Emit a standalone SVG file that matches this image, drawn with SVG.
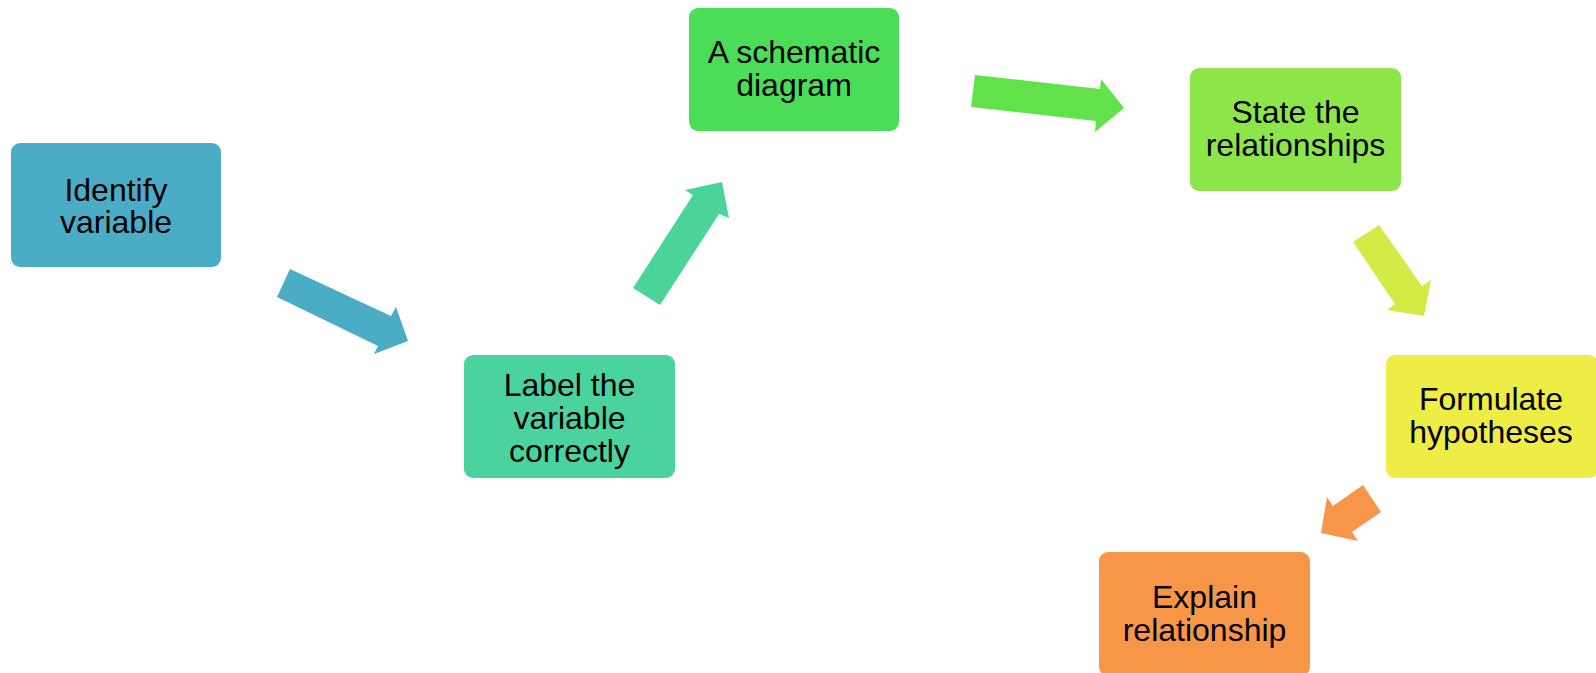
<svg xmlns="http://www.w3.org/2000/svg" width="1596" height="673" viewBox="0 0 1596 673">
<style>
.box{stroke:none}
.t{font-family:"Liberation Sans",Arial,sans-serif;font-size:32px;fill:#000;text-anchor:middle}
</style>
<rect width="1596" height="673" fill="#fff"/>
<g id="connectors">
<polygon fill="#4BACC6" points="290,269 391,316 396,307 408,341 374,354 378,346 277,297"/>
<polygon fill="#4AD49A" points="633,288 693,195 685,190 722,182 729,218 719,214 660,305"/>
<polygon fill="#62E24A" points="975,75 1100,89 1101,79 1124,108 1095,132 1096,121 971,107"/>
<polygon fill="#D4EA46" points="1353,242 1379,225 1422,286 1431,280 1424,316 1387,310 1395,304"/>
<polygon fill="#F7964A" points="1363,485 1381,512 1352,532 1358,541 1321,533 1327,497 1333,506"/>
</g>
<g id="n1">
<rect class="box" x="11" y="143" width="210" height="124" rx="9" fill="#4BACC6"/>
<text class="t" x="116" y="201">Identify</text>
<text class="t" x="116" y="233">variable</text>
</g>
<g id="n2">
<rect class="box" x="464" y="355" width="211" height="123" rx="9" fill="#4AD39E"/>
<text class="t" x="569.5" y="396">Label the</text>
<text class="t" x="569.5" y="429">variable</text>
<text class="t" x="569.5" y="462">correctly</text>
</g>
<g id="n3">
<rect class="box" x="689" y="8" width="210" height="123" rx="9" fill="#4CDD58"/>
<text class="t" x="794" y="63">A schematic</text>
<text class="t" x="794" y="96">diagram</text>
</g>
<g id="n4">
<rect class="box" x="1190" y="68" width="211" height="123" rx="9" fill="#8CE64A"/>
<text class="t" x="1295.5" y="123">State the</text>
<text class="t" x="1295.5" y="156">relationships</text>
</g>
<g id="n5">
<rect class="box" x="1386" y="355" width="212" height="123" rx="9" fill="#EDED45"/>
<text class="t" x="1491" y="410">Formulate</text>
<text class="t" x="1491" y="443">hypotheses</text>
</g>
<g id="n6">
<rect class="box" x="1099" y="552" width="211" height="124" rx="9" fill="#F79646"/>
<text class="t" x="1204.5" y="608">Explain</text>
<text class="t" x="1204.5" y="641">relationship</text>
</g>
</svg>
